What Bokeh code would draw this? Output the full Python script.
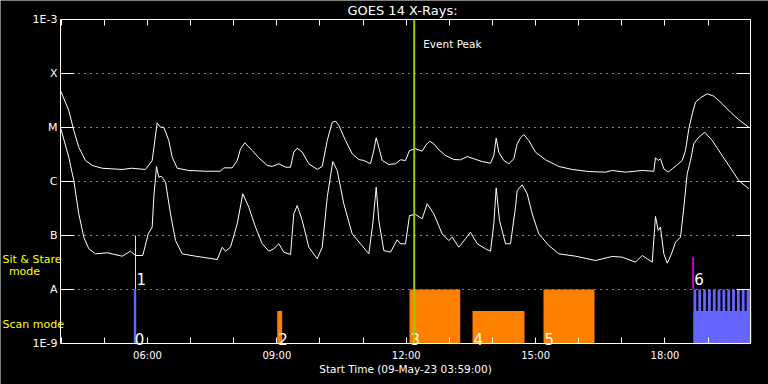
from bokeh.plotting import figure
from bokeh.models import FixedTicker, LogAxis, LinearAxis, ColumnDataSource, Range1d
from bokeh.embed import file_html
from bokeh.resources import INLINE
from bokeh.core.properties import value

FONT = "DejaVu Sans"

# ---- data (time in decimal hours UT, 09-May-23; flux in W/m^2) ----
long_time = [3.983, 4.175, 4.291, 4.407, 4.563, 4.718, 4.950, 5.414, 5.629, 5.954,
             6.109, 6.170, 6.225, 6.302, 6.378, 6.494, 6.573, 6.689, 6.958, 7.345,
             7.693, 7.770, 7.965, 8.081, 8.157, 8.257, 8.428, 8.581, 8.776, 8.892,
             9.045, 9.201, 9.317, 9.393, 9.472, 9.588, 9.741, 9.936, 10.052, 10.168,
             10.284, 10.360, 10.437, 10.592, 10.747, 10.900, 11.016, 11.172, 11.248, 11.304,
             11.364, 11.443, 11.596, 11.751, 11.867, 11.983, 12.076, 12.215, 12.370, 12.447,
             12.540, 12.639, 12.755, 12.911, 13.103, 13.258, 13.414, 13.567, 13.762, 13.954,
             14.031, 14.086, 14.147, 14.263, 14.379, 14.495, 14.573, 14.650, 14.726, 14.842,
             14.998, 15.230, 15.538, 15.849, 16.234, 16.621, 16.776, 17.085, 17.472, 17.741,
             17.780, 17.843, 17.896, 17.973, 18.075, 18.168, 18.284, 18.400, 18.476, 18.553,
             18.632, 18.708, 18.824, 18.979, 19.132, 19.327, 19.519, 19.712, 19.944]
long_flux = [4.84e-5, 2.07e-5, 8.8e-6, 4.31e-6, 2.45e-6, 1.98e-6, 1.76e-6, 1.67e-6, 1.76e-6, 1.67e-6,
             2.45e-6, 5.74e-6, 1.22e-5, 1.01e-5, 1.01e-5, 5.74e-6, 2.82e-6, 1.76e-6, 1.60e-6, 1.55e-6,
             1.55e-6, 1.79e-6, 1.79e-6, 2.45e-6, 4.04e-6, 5.21e-6, 3.75e-6, 2.75e-6, 1.98e-6, 1.90e-6,
             2.13e-6, 1.84e-6, 1.84e-6, 3.49e-6, 4.14e-6, 3.49e-6, 2.13e-6, 1.67e-6, 1.90e-6, 5.74e-6,
             1.25e-5, 1.31e-5, 1.09e-5, 5.74e-6, 3.26e-6, 2.55e-6, 2.45e-6, 2.13e-6, 3.75e-6, 6.44e-6,
             4.31e-6, 2.45e-6, 2.07e-6, 2.13e-6, 2.52e-6, 2.45e-6, 3.75e-6, 4.04e-6, 3.64e-6, 4.64e-6,
             5.57e-6, 4.99e-6, 3.87e-6, 3.03e-6, 2.55e-6, 2.52e-6, 2.90e-6, 2.63e-6, 2.34e-6, 2.18e-6,
             3.03e-6, 6.34e-6, 3.49e-6, 2.45e-6, 2.13e-6, 2.63e-6, 4.99e-6, 6.44e-6, 7.41e-6, 5.74e-6,
             3.49e-6, 2.52e-6, 1.90e-6, 1.67e-6, 1.53e-6, 1.49e-6, 1.60e-6, 1.49e-6, 1.60e-6, 1.55e-6,
             2.75e-6, 2.45e-6, 2.63e-6, 1.72e-6, 1.49e-6, 1.72e-6, 2.04e-6, 2.45e-6, 3.75e-6, 9.46e-6,
             1.79e-5, 2.95e-5, 3.55e-5, 4.21e-5, 3.80e-5, 2.75e-5, 1.92e-5, 1.39e-5, 1.01e-5]

short_time = [3.983, 4.175, 4.291, 4.407, 4.523, 4.639, 4.795, 5.066, 5.414, 5.606,
              5.722, 5.891, 6.017, 6.109, 6.147, 6.209, 6.263, 6.325, 6.418, 6.534,
              6.650, 6.805, 7.113, 7.617, 7.733, 7.810, 7.925, 8.081, 8.210, 8.349,
              8.505, 8.660, 8.813, 8.929, 9.045, 9.161, 9.317, 9.393, 9.472, 9.588,
              9.741, 9.936, 10.052, 10.168, 10.297, 10.399, 10.552, 10.747, 10.939, 11.132,
              11.225, 11.304, 11.364, 11.480, 11.635, 11.791, 11.867, 11.983, 12.076, 12.215,
              12.370, 12.486, 12.639, 12.834, 12.987, 13.066, 13.219, 13.374, 13.490, 13.646,
              13.838, 13.954, 14.031, 14.086, 14.163, 14.302, 14.418, 14.534, 14.573, 14.689,
              14.805, 14.921, 15.074, 15.306, 15.538, 15.925, 16.389, 16.776, 17.008, 17.317,
              17.472, 17.704, 17.780, 17.843, 17.896, 17.973, 18.052, 18.151, 18.244, 18.360,
              18.437, 18.515, 18.592, 18.668, 18.770, 18.923, 19.095, 19.248, 19.480, 19.712,
              19.944]
short_flux = [1.0e-5, 2.82e-6, 1.04e-6, 2.52e-7, 9.31e-8, 5.68e-8, 4.58e-8, 4.79e-8, 4.14e-8, 5.12e-8,
              4.27e-8, 4.27e-8, 1.07e-7, 1.43e-7, 5.12e-7, 1.90e-6, 1.20e-6, 1.25e-6, 9.71e-7, 2.52e-7,
              8.07e-8, 4.58e-8, 4.14e-8, 3.59e-8, 6.07e-8, 5.12e-8, 6.07e-8, 1.65e-7, 5.92e-7, 3.34e-7,
              1.43e-7, 7.02e-8, 5.12e-8, 5.68e-8, 7.02e-8, 4.91e-8, 4.45e-8, 2.52e-7, 3.59e-7, 1.90e-7,
              6.07e-8, 3.71e-8, 6.07e-8, 5.12e-7, 2.34e-6, 1.60e-6, 3.87e-7, 1.07e-7, 7.02e-8, 4.58e-8,
              1.65e-7, 7.83e-7, 1.90e-7, 5.27e-8, 4.91e-8, 8.32e-8, 7.02e-8, 7.02e-8, 2.34e-7, 2.45e-7,
              2.04e-7, 3.87e-7, 2.52e-7, 1.07e-7, 8.07e-8, 9.31e-8, 6.07e-8, 8.69e-8, 1.15e-7, 7.02e-8,
              5.68e-8, 5.12e-8, 1.65e-7, 7.64e-7, 1.90e-7, 7.02e-8, 7.02e-8, 3.34e-7, 6.81e-7, 8.69e-7,
              5.92e-7, 2.52e-7, 1.07e-7, 6.53e-8, 4.58e-8, 4.14e-8, 3.44e-8, 4.09e-8, 3.97e-8, 3.21e-8,
              4.27e-8, 3.21e-8, 2.25e-7, 1.24e-7, 1.43e-7, 4.58e-8, 3.07e-8, 4.58e-8, 7.52e-8, 9.31e-8,
              3.34e-7, 1.39e-6, 2.45e-6, 4.99e-6, 6.44e-6, 8.18e-6, 5.74e-6, 3.75e-6, 1.98e-6, 1.04e-6,
              7.33e-7]

# scan-mode observations (numbered)
scan_label = ["0", "2", "3", "4", "5"]
scan_start = [5.683, 9.008, 12.076, 13.537, 15.183]
scan_end = [5.739, 9.124, 13.252, 14.743, 16.366]
scan_top = [1e-8, 4e-9, 1e-8, 4e-9, 1e-8]
scan_color = ["#6666ff", "#ff8000", "#ff8000", "#ff8000", "#ff8000"]

# sit & stare observations (numbered)
sit_label = ["1", "6"]
sit_time = [5.722, 18.653]
sit_top = [1e-7, 4e-8]
sit_color = ["#ffff00", "#cc00cc"]

# final blue scan block with repeated rasters
block_start = [18.661]
block_end = [20.0]
block_top = [4e-9]
raster_start = [18.661, 18.773, 18.885, 18.997, 19.109, 19.221, 19.333, 19.445, 19.557, 19.669, 19.781, 19.893]
raster_end = [18.726, 18.838, 18.950, 19.062, 19.174, 19.286, 19.398, 19.510, 19.622, 19.734, 19.846, 20.0]
raster_top = [1e-8] * 12

peak_time = 12.185

class_levels = [1e-9, 1e-8, 1e-7, 1e-6, 1e-5, 1e-4, 1e-3]
class_labels = ["1E-9", "A", "B", "C", "M", "X", "1E-3"]
grid_levels = [1e-8, 1e-7, 1e-6, 1e-5, 1e-4]

mode_texts = ["Sit & Stare", "mode", "Scan mode"]
mode_levels = [3.6e-8, 2.15e-8, 2.25e-9]

hour_ticks = list(range(4, 20))
labeled_hours = [6, 9, 12, 15, 18]
hour_labels = ["06:00", "09:00", "12:00", "15:00", "18:00"]

x_start, x_end = 3.983, 19.983
y_lo, y_hi = 1e-9, 1e-3

# ---- layout geometry (pixels) ----
W, H = 768, 384
PL, PR, PT, PB = 60, 750, 19, 343          # plot box inside the canvas
px_per_hour = (PR - PL) / (x_end - x_start)
px_per_decade = (PB - PT) / 6.0

x_range = Range1d(x_start - PL / px_per_hour, x_end + (W - PR) / px_per_hour)
y_range = Range1d(y_lo / 10 ** ((H - PB) / px_per_decade), y_hi * 10 ** (PT / px_per_decade))

p = figure(width=W, height=H, x_range=x_range, y_range=y_range, y_axis_type="log",
           x_axis_location=None, y_axis_location=None,
           output_backend="svg", toolbar_location=None,
           background_fill_color="black", border_fill_color="black",
           min_border_left=0, min_border_right=0, min_border_top=0, min_border_bottom=0)
p.outline_line_color = None
p.xgrid.visible = False
p.ygrid.visible = False


def tick_axis(kind, side, ticks, loc, bounds, tick_len):
    ax = kind(ticker=FixedTicker(ticks=ticks), fixed_location=loc, bounds=bounds,
              major_tick_in=tick_len, major_tick_out=0, minor_tick_line_color=None,
              axis_line_color="white", major_tick_line_color="white",
              major_label_text_font_size="0px", major_label_standoff=0,
              major_label_overrides={t: "" for t in ticks})
    p.add_layout(ax, side)


tick_axis(LinearAxis, "below", hour_ticks, y_lo, (x_start, x_end), 6)
tick_axis(LinearAxis, "above", hour_ticks, y_hi, (x_start, x_end), 6)
tick_axis(LogAxis, "left", class_levels, x_start, (y_lo, y_hi), 14)
tick_axis(LogAxis, "right", class_levels, x_end, (y_lo, y_hi), 14)

# dotted class levels
p.segment(x0=x_start, x1=x_end, y0=grid_levels, y1=grid_levels, line_color="white",
          line_width=1, line_dash="1 5")

# observation bars
p.quad(left=block_start, right=block_end, bottom=y_lo, top=block_top,
       fill_color="#6666ff", line_color=None)
p.quad(left=raster_start, right=raster_end, bottom=y_lo, top=raster_top,
       fill_color="#6666ff", line_color=None)
scan_src = ColumnDataSource(dict(left=scan_start, right=scan_end, top=scan_top,
                                 color=scan_color, label=scan_label))
p.quad(left="left", right="right", bottom=y_lo, top="top", fill_color="color",
       line_color=None, source=scan_src)
sit_src = ColumnDataSource(dict(x=sit_time, bottom=[1e-8] * len(sit_time), top=sit_top,
                                color=sit_color, width=[1, 2], label=sit_label))
p.segment(x0="x", y0="bottom", x1="x", y1="top", line_color="color", line_width="width",
          source=sit_src)

# light curves
p.line(long_time, long_flux, line_color="white", line_width=1)
p.line(short_time, short_flux, line_color="white", line_width=1)

# labels on observations
p.text(x="left", y=y_lo, text="label", source=scan_src, text_color="white",
       text_font=value(FONT), text_font_size="15px", text_baseline="alphabetic",
       x_offset=1, y_offset=-5)
p.text(x="x", y="bottom", text="label", source=sit_src, text_color="white",
       text_font=value(FONT), text_font_size="15px", text_baseline="alphabetic",
       x_offset=1, y_offset=-11)

# event peak
p.segment(x0=[peak_time], y0=[y_lo], x1=[peak_time], y1=[y_hi], line_color="#99cc00", line_width=2)
p.text(x=[peak_time], y=[y_hi], text=["Event Peak"], text_color="white",
       text_font=value(FONT), text_font_size="10.5px", text_baseline="middle",
       x_offset=9, y_offset=24)

# title
x_mid = (x_start + x_end) / 2
p.text(x=[x_mid], y=[y_hi], text=["GOES 14 X-Rays:"], text_color="white",
       text_font=value(FONT), text_font_size="13px", text_align="center",
       text_baseline="middle", x_offset=-3, y_offset=-9)

# y labels (flux classes)
p.text(x=[x_start] * len(class_levels), y=class_levels, text=class_labels, text_color="white",
       text_font=value(FONT), text_font_size="11px", text_align="right",
       text_baseline="middle", x_offset=-3)

# mode legend (yellow)
p.text(x=[x_start] * 3, y=mode_levels, text=mode_texts, text_color="#ffff00",
       text_font=value(FONT), text_font_size="11px", text_align=["left", "center", "left"],
       text_baseline="middle", x_offset=[-58, -36, -58])

# x labels
p.text(x=labeled_hours, y=[y_lo] * len(labeled_hours), text=hour_labels, text_color="white",
       text_font=value(FONT), text_font_size="10px", text_align="center",
       text_baseline="middle", y_offset=12)
p.text(x=[x_mid], y=[y_lo], text=["Start Time (09-May-23 03:59:00)"], text_color="white",
       text_font=value(FONT), text_font_size="10.5px", text_align="center",
       text_baseline="middle", y_offset=25)

html = file_html(p, INLINE, title="GOES 14 X-Rays")
html = html.replace("<body>", '<body style="margin:0;background-color:#000000;overflow:hidden;">', 1)
open("out.html", "w").write(html)
